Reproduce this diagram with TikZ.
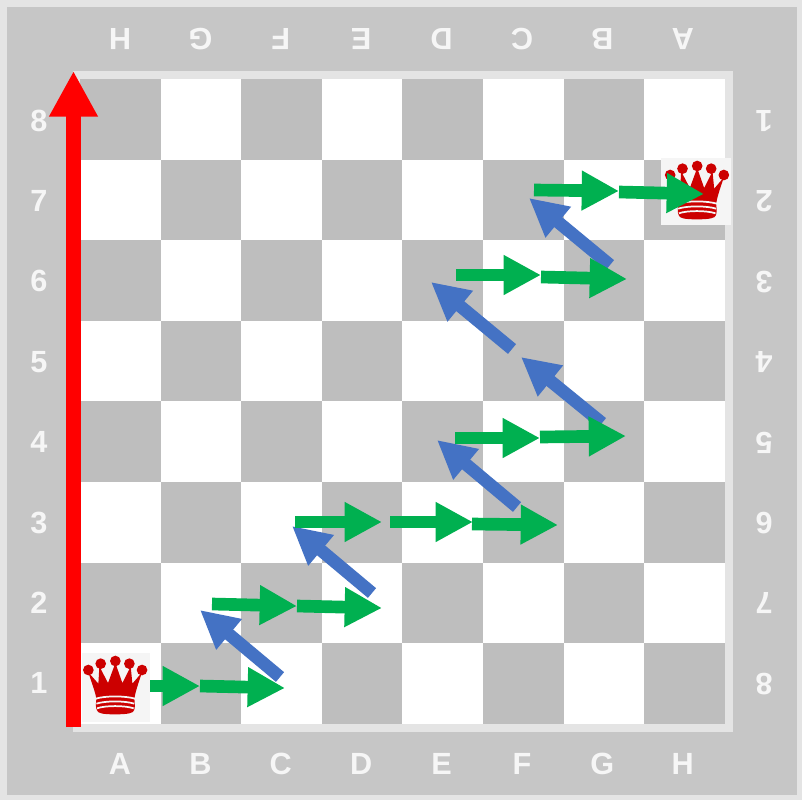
\documentclass[tikz,border=0pt]{standalone}
\usepackage{fontspec}
\setmainfont{Liberation Sans}
\usetikzlibrary{arrows.meta}
\definecolor{outerc}{HTML}{E4E4E4}
\definecolor{framec}{HTML}{C6C6C6}
\definecolor{darkc}{HTML}{BEBEBE}
\definecolor{labelc}{HTML}{F6F6F6}
\definecolor{greenc}{HTML}{00B050}
\definecolor{bluec}{HTML}{4472C4}
\definecolor{queenc}{HTML}{CC0000}
\definecolor{queenbg}{HTML}{F5F5F5}
\tikzset{
  x=0.75pt,y=-0.75pt,
  boardlabel/.style={font=\fontsize{23pt}{24pt}\selectfont\bfseries,text=labelc,inner sep=0pt,anchor=center},
  fliplabel/.style={boardlabel,rotate=180},
  greenarrow/.style={draw=greenc,line width=9.5pt,-{Triangle[length=28pt,width=28pt,fill=greenc]}},
  bluearrow/.style={draw=bluec,line width=9.5pt,-{Triangle[length=28.5pt,width=28pt,fill=bluec]}},
  redarrow/.style={draw=red,line width=11.4pt,-{Triangle[length=34.3pt,width=34.3pt,fill=red]}},
  crownfill/.style={fill=queenc,draw=none},
  crownband/.style={draw=queenbg,line width=1.3pt},
}
% crown drawn in the 205-unit frame of the tile
\newcommand{\crownpic}{%
  \fill[crownfill] (20,51) circle (16);
  \fill[crownfill] (57,32) circle (16);
  \fill[crownfill] (101,24) circle (16);
  \fill[crownfill] (143,32) circle (16);
  \fill[crownfill] (181,51) circle (16);
  \fill[crownfill] (20,58) -- (50,92) -- (53,40) -- (79,90) -- (101,30) -- (122,90) -- (147,40) -- (152,92) -- (181,58)
    .. controls (170,90) and (160,120) .. (158,138)
    .. controls (160,155) and (160,165) .. (157,172)
    .. controls (155,180) and (140,184) .. (100,184)
    .. controls (60,184) and (48,180) .. (46,172)
    .. controls (42,165) and (42,155) .. (44,138)
    .. controls (42,120) and (30,90) .. (20,58) -- cycle;
  \draw[crownband] (42,137) .. controls (70,128) and (130,128) .. (160,137);
  \draw[crownband] (44,152) .. controls (70,143) and (130,143) .. (158,152);
  \draw[crownband] (46,166) .. controls (70,157) and (130,157) .. (156,166);
}
\begin{document}
\begin{tikzpicture}
\useasboundingbox (0,0) rectangle (802,800);
\fill[outerc] (0,0) rectangle (802,800);
\fill[framec] (7,7) rectangle (797,795);
\fill[outerc] (73,71) rectangle (733,732);
\fill[white] (80,79) rectangle (725,724);
\foreach \c in {0,...,7}{
  \foreach \r in {0,...,7}{
    \pgfmathparse{int(mod(\c+\r,2))}
    \ifnum\pgfmathresult=0
      \fill[darkc] ({80+\c*80.6},{79+\r*80.6}) rectangle ({80+(\c+1)*80.6},{79+(\r+1)*80.6});
    \fi
  }
}
% labels
\foreach \t [count=\i from 0] in {A,B,C,D,E,F,G,H}{
  \node[boardlabel] (bot\t) at ({120+\i*80.4},764) {\t};
}
\foreach \t [count=\i from 0] in {H,G,F,E,D,C,B,A}{
  \node[fliplabel] (top\t) at ({120+\i*80.4},39) {\t};
}
\foreach \t [count=\i from 0] in {8,7,6,5,4,3,2,1}{
  \node[boardlabel] (left\t) at (39,{120.5+\i*80.4}) {\t};
}
\foreach \t [count=\i from 0] in {1,2,3,4,5,6,7,8}{
  \node[fliplabel] (right\t) at (764,{121+\i*80.4}) {\t};
}
% queens
\fill[queenbg] (82,653) rectangle (150,722);
\begin{scope}[shift={(81.7,653)},x=0.25pt,y=-0.25pt]
  \crownpic
\end{scope}
\fill[queenbg] (661,158) rectangle (731,225);
\begin{scope}[shift={(663.5,158)},x=0.25pt,y=-0.25pt]
  \crownpic
\end{scope}
% red axis
\coordinate (redS) at (73.5,727);
\coordinate (redT) at (73.5,71);
\draw[redarrow] (redS) -- (redT);
% blue arrows
\coordinate (b1s) at (280,677); \coordinate (b1t) at (200,610);
\coordinate (b2s) at (372,593); \coordinate (b2t) at (292,526);
\coordinate (b3s) at (517,507); \coordinate (b3t) at (437,440);
\coordinate (b4s) at (602,423); \coordinate (b4t) at (521,357);
\coordinate (b5s) at (512,349); \coordinate (b5t) at (431,282);
\coordinate (b6s) at (610,265); \coordinate (b6t) at (529,198);
\foreach \n in {1,...,6}{ \draw[bluearrow] (b\n s) -- (b\n t); }
% green arrows
\coordinate (g1s) at (150,686); \coordinate (g1t) at (200,686);
\coordinate (g2s) at (200,686); \coordinate (g2t) at (285,688);
\coordinate (g3s) at (212,604); \coordinate (g3t) at (297,606);
\coordinate (g4s) at (297,606); \coordinate (g4t) at (382,608);
\coordinate (g5s) at (295,522); \coordinate (g5t) at (382,522);
\coordinate (g6s) at (390,522); \coordinate (g6t) at (473,522);
\coordinate (g7s) at (472,524); \coordinate (g7t) at (558,525);
\coordinate (g8s) at (455,438); \coordinate (g8t) at (540,438);
\coordinate (g9s) at (540,437); \coordinate (g9t) at (626,436);
\coordinate (g10s) at (456,275); \coordinate (g10t) at (541,275);
\coordinate (g11s) at (541,277); \coordinate (g11t) at (627,279);
\coordinate (g12s) at (534,190); \coordinate (g12t) at (619,191);
\coordinate (g13s) at (619,192); \coordinate (g13t) at (704,194);
\foreach \n in {1,...,13}{ \draw[greenarrow] (g\n s) -- (g\n t); }
\end{tikzpicture}
\end{document}
